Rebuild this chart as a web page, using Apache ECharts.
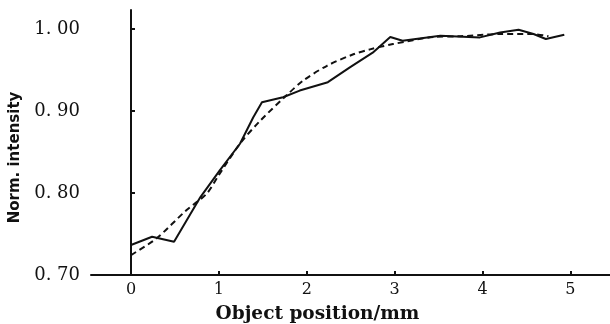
<!DOCTYPE html>
<html>
<head>
<meta charset="utf-8">
<script src="https://cdn.jsdelivr.net/npm/echarts@6/dist/echarts.min.js"></script>
<style>html,body{margin:0;padding:0;background:#fff}#c{width:610px;height:324px}</style>
</head>
<body>
<div id="c"></div>
<script>
// Measured profile (solid line)
const measuredX = [0, 0.24, 0.49, 0.79, 1.01, 1.24, 1.39, 1.49, 1.73, 1.92, 2.24, 2.49, 2.75, 2.95, 3.09, 3.52, 3.97, 4.2, 4.41, 4.58, 4.72, 4.93];
const measuredY = [0.7365, 0.7466, 0.7405, 0.795, 0.8276, 0.86, 0.892, 0.9106, 0.9167, 0.9248, 0.935, 0.953, 0.971, 0.990, 0.9855, 0.9916, 0.9896, 0.9956, 0.999, 0.9937, 0.9876, 0.9928];
// Fitted profile (dashed line)
const fitX = [0, 0.29, 0.63, 0.86, 1.0, 1.24, 1.47, 1.77, 1.96, 2.23, 2.53, 2.72, 2.98, 3.44, 3.75, 4.2, 4.57, 4.75];
const fitY = [0.7243, 0.7446, 0.779, 0.799, 0.822, 0.86, 0.888, 0.919, 0.937, 0.955, 0.969, 0.975, 0.9815, 0.990, 0.991, 0.9937, 0.9937, 0.991];
// Tick labels
const xTicks = [0, 1, 2, 3, 4, 5];
const xTickLabels = ['0', '1', '2', '3', '4', '5'];
const yTicks = [0.7, 0.8, 0.9, 1.0];
const yTickLabels = ['0. 70', '0. 80', '0. 90', '1. 00'];

const chart = echarts.init(document.getElementById('c'));
const pair = (xs, ys) => xs.map((x, i) => [x, ys[i]]);
chart.setOption({
  animation: false,
  backgroundColor: '#fff',
  grid: {left: 91, top: 10, right: 0, bottom: 49, containLabel: false, outerBoundsMode: 'none'},
  xAxis: {
    type: 'value', min: -0.455, max: 5.45,
    name: 'Object position/mm', nameLocation: 'middle', nameGap: 30,
    nameTextStyle: {fontFamily: 'DejaVu Serif', fontWeight: 'bold', fontSize: 18.5, color: '#111', padding: [0, 66, 0, 0]},
    axisLine: {show: true, lineStyle: {color: '#111', width: 2}},
    axisTick: {show: true, inside: true, length: 4, customValues: xTicks, lineStyle: {color: '#111', width: 2}},
    axisLabel: {customValues: xTicks, formatter: v => xTickLabels[xTicks.indexOf(Math.round(v))] ?? '', fontFamily: 'DejaVu Serif', fontSize: 16, color: '#111', margin: 7},
    splitLine: {show: false}
  },
  yAxis: {
    type: 'value', min: 0.7, max: 1.023,
    name: 'Norm. intensity', nameLocation: 'middle', nameGap: 68, nameRotate: 90,
    nameTextStyle: {fontFamily: 'DejaVu Sans', fontWeight: 'bold', fontSize: 15, color: '#111', padding: [0, 30, 0, 0]},
    axisLine: {show: true, lineStyle: {color: '#111', width: 2}},
    axisTick: {show: true, inside: true, length: 4, customValues: yTicks, lineStyle: {color: '#111', width: 2}},
    axisLabel: {customValues: yTicks, formatter: v => { const i = yTicks.findIndex(t => Math.abs(t - v) < 1e-6); return i >= 0 ? yTickLabels[i] : ''; }, fontFamily: 'DejaVu Serif', fontSize: 18, color: '#111', margin: 11},
    splitLine: {show: false}
  },
  series: [
    {type: 'line', data: pair(measuredX, measuredY), showSymbol: false, lineStyle: {color: '#111', width: 2}},
    {type: 'line', data: pair(fitX, fitY), showSymbol: false, smooth: 0.3, lineStyle: {color: '#111', width: 2, type: [6, 4]}}
  ]
});
</script>
</body>
</html>
